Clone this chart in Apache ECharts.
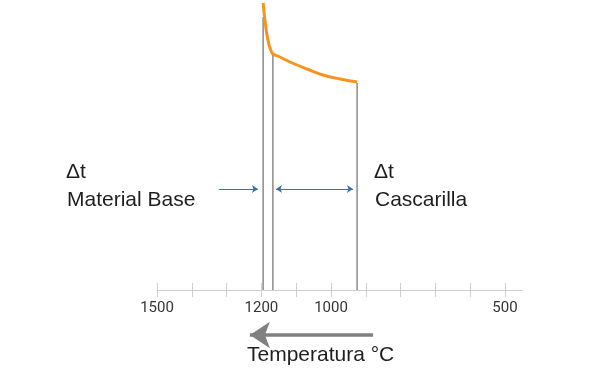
<!DOCTYPE html>
<html><head><meta charset="utf-8">
<script src="https://cdn.jsdelivr.net/npm/echarts@6/dist/echarts.min.js"></script>
<style>html,body{margin:0;padding:0;background:#fff}#c{width:600px;height:370px}</style>
</head><body><div id="c"></div>
<script>
// Temperature axis (°C), reversed
const tickValues = [500,600,700,800,900,1000,1100,1200,1300,1400,1500];
const tickLabels = [1500,1200,1000,500];
// Orange cooling curve: [temperature, relative height]
const curveTemp = [1195,1190,1184,1178,1172,1167,1147,1118,1069,1023,974,925];
const curveVal  = [287,270,255,245,239,236,233,228,221,215,211,208];
// Vertical marker lines: temperature and height
const markerTemp = [1195,1167,925];
const markerTop  = [273,235,207];
// Δt arrows (blue)
const arrowY = 101;
const baseArrow = [1322,1210];
const cascArrow = [1158,937];
// Temperature direction arrow (grey), below axis
const dirArrow = [879,1233];
const dirArrowY = -45;

const chart = echarts.init(document.getElementById('c'), null, {renderer:'canvas'});
const series = [];
series.push({
  type:'line', smooth:0.4, showSymbol:false, symbol:'none',
  data: curveTemp.map((t,i)=>[t,curveVal[i]]),
  lineStyle:{color:'#f7941d', width:3}, z:5
});
markerTemp.forEach((t,i)=>{
  series.push({type:'line', symbol:'none', data:[[t,0],[t,markerTop[i]]],
    lineStyle:{color:'#8a8a8a', width:1.5}, z:3});
});
series.push({
  type:'lines', coordinateSystem:'cartesian2d', clip:false,
  symbol:['none','arrow'], symbolSize:6,
  lineStyle:{color:'#2f73b5', width:1.2, opacity:1},
  data:[{coords:[[baseArrow[0],arrowY],[baseArrow[1],arrowY]]}], z:4
});
series.push({
  type:'lines', coordinateSystem:'cartesian2d', clip:false,
  symbol:['arrow','arrow'], symbolSize:6,
  lineStyle:{color:'#2f73b5', width:1.2, opacity:1},
  data:[{coords:[[cascArrow[0],arrowY],[cascArrow[1],arrowY]]}], z:4
});
series.push({
  type:'lines', coordinateSystem:'cartesian2d', clip:false,
  symbol:['none','arrow'], symbolSize:[13,20],
  lineStyle:{color:'#808080', width:3.5, opacity:1},
  data:[{coords:[[dirArrow[0],dirArrowY],[dirArrow[1],dirArrowY]]}], z:4
});

const txt = {fontFamily:'Liberation Sans, Arial, sans-serif', fontSize:21, fill:'#1e1e1e'};
chart.setOption({
  animation:false,
  grid:{left:157, right:77.6, top:0, bottom:80, containLabel:false},
  xAxis:[{
    type:'value', inverse:true, min:450, max:1500,
    axisLine:{show:true, lineStyle:{color:'#cfcfcf', width:1}},
    axisTick:{show:true, inside:false, length:7, lineStyle:{color:'#cfcfcf'}, customValues:tickValues},
    axisLabel:{show:true, customValues:tickLabels, margin:11, color:'#333',
      formatter:v=>String(v),
      fontFamily:'Liberation Sans Narrow, Roboto, sans-serif', fontSize:15},
    splitLine:{show:false}
  },{
    type:'value', inverse:true, min:450, max:1500, position:'bottom',
    axisLine:{show:false},
    axisTick:{show:true, inside:true, length:7, lineStyle:{color:'#cfcfcf'}, customValues:tickValues},
    axisLabel:{show:false}, splitLine:{show:false}
  }],
  yAxis:{type:'value', min:0, max:290, show:false},
  series: series,
  graphic:[
    {type:'text', left:66, top:162, style:Object.assign({text:'\u0394t'},txt)},
    {type:'text', left:67, top:190, style:Object.assign({text:'Material Base'},txt)},
    {type:'text', left:374, top:162, style:Object.assign({text:'\u0394t'},txt)},
    {type:'text', left:375, top:190, style:Object.assign({text:'Cascarilla'},txt)},
    {type:'text', left:247, top:345, style:Object.assign({text:'Temperatura °C'},txt)}
  ]
});
</script></body></html>
